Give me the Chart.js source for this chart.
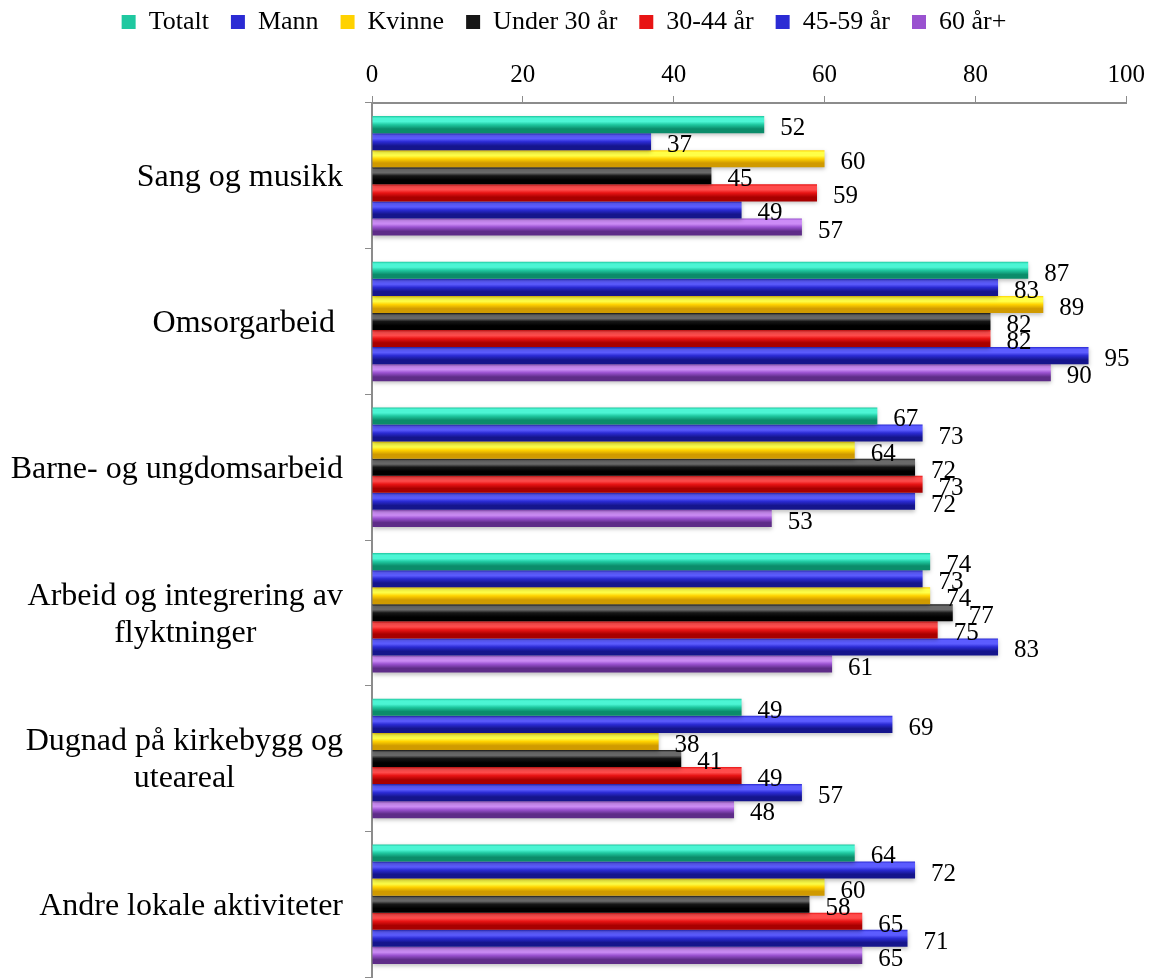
<!DOCTYPE html>
<html>
<head>
<meta charset="utf-8">
<script src="https://cdn.jsdelivr.net/npm/chart.js@4"></script>
<style>
    html, body { margin: 0; padding: 0; background: #fff; }
    #wrap { position: relative; width: 1151px; height: 978px; }
</style>
</head>
<body>
<div id="wrap"><canvas id="chart"></canvas></div>
<script>
const categories = [
    'Sang og musikk',
    'Omsorgarbeid ',
    'Barne- og ungdomsarbeid',
    ['Arbeid og integrering av', 'flyktninger'],
    ['Dugnad på kirkebygg og', 'uteareal'],
    'Andre lokale aktiviteter'
];
const seriesNames = ['Totalt', 'Mann', 'Kvinne', 'Under 30 år', '30-44 år', '45-59 år', '60 år+'];

const totalt  = [52, 87, 67, 74, 49, 64];
const mann    = [37, 83, 73, 73, 69, 72];
const kvinne  = [60, 89, 64, 74, 38, 60];
const under30 = [45, 82, 72, 77, 41, 58];
const age3044 = [59, 82, 73, 75, 49, 65];
const age4559 = [49, 95, 72, 83, 57, 71];
const age60   = [57, 90, 53, 61, 48, 65];

const xTicks = [0, 20, 40, 60, 80, 100];

// farger: lys topp, midt, mørk bunn
const palette = [
    { light: '#4cf5d4', mid: '#1fc8a0', dark: '#0b8c6a' },
    { light: '#5c5cff', mid: '#2b2bd4', dark: '#15158c' },
    { light: '#ffff48', mid: '#ffd200', dark: '#d09a00' },
    { light: '#6a6a6a', mid: '#161616', dark: '#000000' },
    { light: '#ff4c4c', mid: '#e81414', dark: '#a80000' },
    { light: '#5c5cff', mid: '#2b2bd4', dark: '#15158c' },
    { light: '#cc8cf6', mid: '#9a52d0', dark: '#5e2c88' }
];

const FONT = "'Liberation Serif', 'Times New Roman', serif";
const seriesValues = [totalt, mann, kvinne, under30, age3044, age4559, age60];

// 3D-aktig gradient på hver stolpe
const bevelPlugin = {
    id: 'bevel',
    beforeDatasetsDraw(chart) {
        const ctx = chart.ctx;
        chart.data.datasets.forEach((ds, i) => {
            const meta = chart.getDatasetMeta(i);
            const pal = palette[i];
            meta.data.forEach(bar => {
                const { y, height } = bar.getProps(['y', 'height'], true);
                const top = y - height / 2;
                const g = ctx.createLinearGradient(0, top, 0, top + height);
                g.addColorStop(0, pal.mid);
                g.addColorStop(0.12, pal.light);
                g.addColorStop(0.32, pal.light);
                g.addColorStop(0.5, pal.mid);
                g.addColorStop(0.75, pal.dark);
                g.addColorStop(1, pal.dark);
                bar.options = Object.assign({}, bar.options, { backgroundColor: g });
            });
        });
        ctx.save();
        ctx.shadowColor = 'rgba(0,0,0,0.25)';
        ctx.shadowBlur = 4;
        ctx.shadowOffsetY = 2;
    },
    afterDatasetsDraw(chart) {
        const ctx = chart.ctx;
        ctx.restore();
        // verdietiketter
        ctx.save();
        ctx.fillStyle = '#000';
        ctx.font = `25px ${FONT}`;
        ctx.textAlign = 'left';
        ctx.textBaseline = 'alphabetic';
        chart.data.datasets.forEach((ds, i) => {
            const meta = chart.getDatasetMeta(i);
            meta.data.forEach((bar, j) => {
                const { x, y } = bar.getProps(['x', 'y'], true);
                ctx.fillText(String(ds.data[j]), x + 16, y + 10.5);
            });
        });
        ctx.restore();
    }
};

// kategorinavn: høyrejustert blokk, flere linjer sentrert i blokken
const catLabelPlugin = {
    id: 'catLabels',
    afterDraw(chart) {
        const ctx = chart.ctx;
        const yScale = chart.scales.y;
        const rightEdge = 343;
        const lineH = 37;
        ctx.save();
        ctx.fillStyle = '#000';
        ctx.font = `32px ${FONT}`;
        ctx.textBaseline = 'middle';
        categories.forEach((label, i) => {
            const lines = Array.isArray(label) ? label : [label];
            const cy = yScale.getPixelForValue(i) + 2;
            const blockW = Math.max(...lines.map(l => ctx.measureText(l).width));
            const cx = rightEdge - blockW / 2;
            lines.forEach((line, k) => {
                const ly = cy + (k - (lines.length - 1) / 2) * lineH;
                if (lines.length === 1) {
                    ctx.textAlign = 'right';
                    ctx.fillText(line, rightEdge, ly);
                } else {
                    ctx.textAlign = 'center';
                    ctx.fillText(line, cx, ly);
                }
            });
        });
        ctx.restore();
    }
};

const axisColor = '#8c8c8c';

new Chart(document.getElementById('chart'), {
    type: 'bar',
    data: {
        labels: categories,
        datasets: seriesNames.map((name, i) => ({
            label: name,
            data: seriesValues[i],
            backgroundColor: palette[i].mid,
            borderWidth: 0
        }))
    },
    options: {
        indexAxis: 'y',
        responsive: true,
        maintainAspectRatio: false,
        animation: false,
        layout: { padding: { top: -13, right: 23, bottom: 1, left: 0 } },
        datasets: { bar: { categoryPercentage: 0.82, barPercentage: 1 } },
        plugins: {
            legend: {
                position: 'top',
                labels: {
                    boxWidth: 14,
                    boxHeight: 14,
                    padding: 22,
                    color: '#000',
                    font: { family: FONT, size: 26 }
                }
            },
            tooltip: { enabled: false }
        },
        scales: {
            x: {
                position: 'top',
                min: xTicks[0],
                max: xTicks[xTicks.length - 1],
                ticks: {
                    stepSize: xTicks[1] - xTicks[0],
                    color: '#000',
                    padding: 6,
                    font: { family: FONT, size: 25 }
                },
                grid: { drawOnChartArea: false, tickLength: 7, color: axisColor },
                border: { color: axisColor, width: 2 },
                afterFit(scale) { scale.height += 9; }
            },
            y: {
                ticks: { display: false },
                grid: { drawOnChartArea: false, tickLength: 7, color: axisColor, offset: true },
                border: { color: axisColor, width: 2 },
                afterFit(scale) { scale.width = 372; }
            }
        }
    },
    plugins: [bevelPlugin, catLabelPlugin]
});
</script>
</body>
</html>
